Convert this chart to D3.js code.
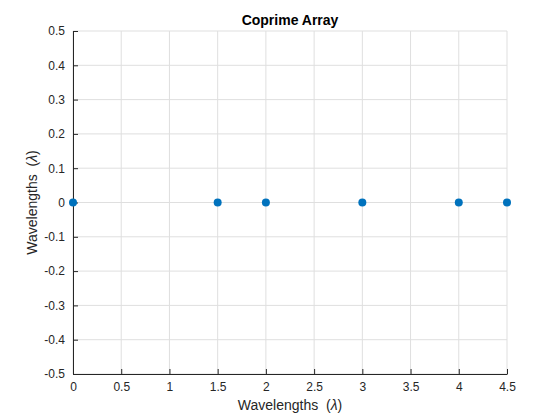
<!DOCTYPE html>
<html>
<head>
<meta charset="utf-8">
<script src="https://cdn.jsdelivr.net/npm/d3@7"></script>
<style>
  body { margin: 0; background: #fff; }
  text { font-family: "Liberation Sans", Arial, sans-serif; }
</style>
</head>
<body>
<svg id="chart" width="560" height="420"></svg>
<script>
// element positions of the coprime array, in wavelengths
const posX = [0, 1.5, 2, 3, 4, 4.5]
const posY = [0, 0, 0, 0, 0, 0]
const xTicks = [0, 0.5, 1, 1.5, 2, 2.5, 3, 3.5, 4, 4.5]
const yTicks = [-0.5, -0.4, -0.3, -0.2, -0.1, 0, 0.1, 0.2, 0.3, 0.4, 0.5]

const svg = d3.select('#chart')
const plotLeft = 73, plotRight = 507, plotTop = 31, plotBottom = 374

const x = d3.scaleLinear().domain([0, 4.5]).range([plotLeft, plotRight])
const y = d3.scaleLinear().domain([-0.5, 0.5]).range([plotBottom, plotTop])

// grid
svg.append('g').selectAll('line').data(xTicks).join('line')
    .attr('x1', d=>x(d)).attr('x2', d=>x(d))
    .attr('y1', plotTop).attr('y2', plotBottom)
    .attr('stroke', '#dfdfdf').attr('stroke-width', 1)
svg.append('g').selectAll('line').data(yTicks).join('line')
    .attr('x1', plotLeft).attr('x2', plotRight)
    .attr('y1', d=>y(d)).attr('y2', d=>y(d))
    .attr('stroke', '#dfdfdf').attr('stroke-width', 1)

const fmt = d => d3.format('')(d).replace('−', '-')

const xAxis = svg.append('g')
    .attr('transform', `translate(0,${plotBottom})`)
    .call(d3.axisBottom(x).tickValues(xTicks).tickFormat(fmt).tickSizeInner(-5).tickSizeOuter(0).tickPadding(8))
const yAxis = svg.append('g')
    .attr('transform', `translate(${plotLeft},0)`)
    .call(d3.axisLeft(y).tickValues(yTicks).tickFormat(fmt).tickSizeInner(-5).tickSizeOuter(0).tickPadding(8))

;[xAxis, yAxis].forEach(a => {
    a.select('.domain').attr('stroke', '#262626')
    a.selectAll('.tick line').attr('stroke', '#262626')
    a.selectAll('.tick text').attr('fill', '#262626').style('font-size', '12px')
        .style('font-family', '"Liberation Sans", Arial, sans-serif')
})

// points
svg.append('g').selectAll('circle').data(posX).join('circle')
    .attr('cx', d=>x(d))
    .attr('cy', (d,i)=>y(posY[i]))
    .attr('r', 4)
    .attr('fill', '#0072bd')

// title and labels
svg.append('text')
    .attr('x', (plotLeft+plotRight)/2).attr('y', 25)
    .attr('text-anchor', 'middle')
    .style('font-size', '14px').style('font-weight', 'bold')
    .attr('fill', '#000')
    .text('Coprime Array')

const xl = svg.append('text')
    .attr('x', (plotLeft+plotRight)/2).attr('y', 410)
    .attr('text-anchor', 'middle')
    .style('font-size', '14px').style('white-space', 'pre').attr('fill', '#262626')
xl.append('tspan').text('Wavelengths  (')
xl.append('tspan').style('font-style', 'italic').text('λ')
xl.append('tspan').text(')')

const yl = svg.append('text')
    .attr('transform', `translate(37,${(plotTop+plotBottom)/2}) rotate(-90)`)
    .attr('text-anchor', 'middle')
    .style('font-size', '14px').style('white-space', 'pre').attr('fill', '#262626')
yl.append('tspan').text('Wavelengths  (')
yl.append('tspan').style('font-style', 'italic').text('λ')
yl.append('tspan').text(')')
</script>
</body>
</html>
